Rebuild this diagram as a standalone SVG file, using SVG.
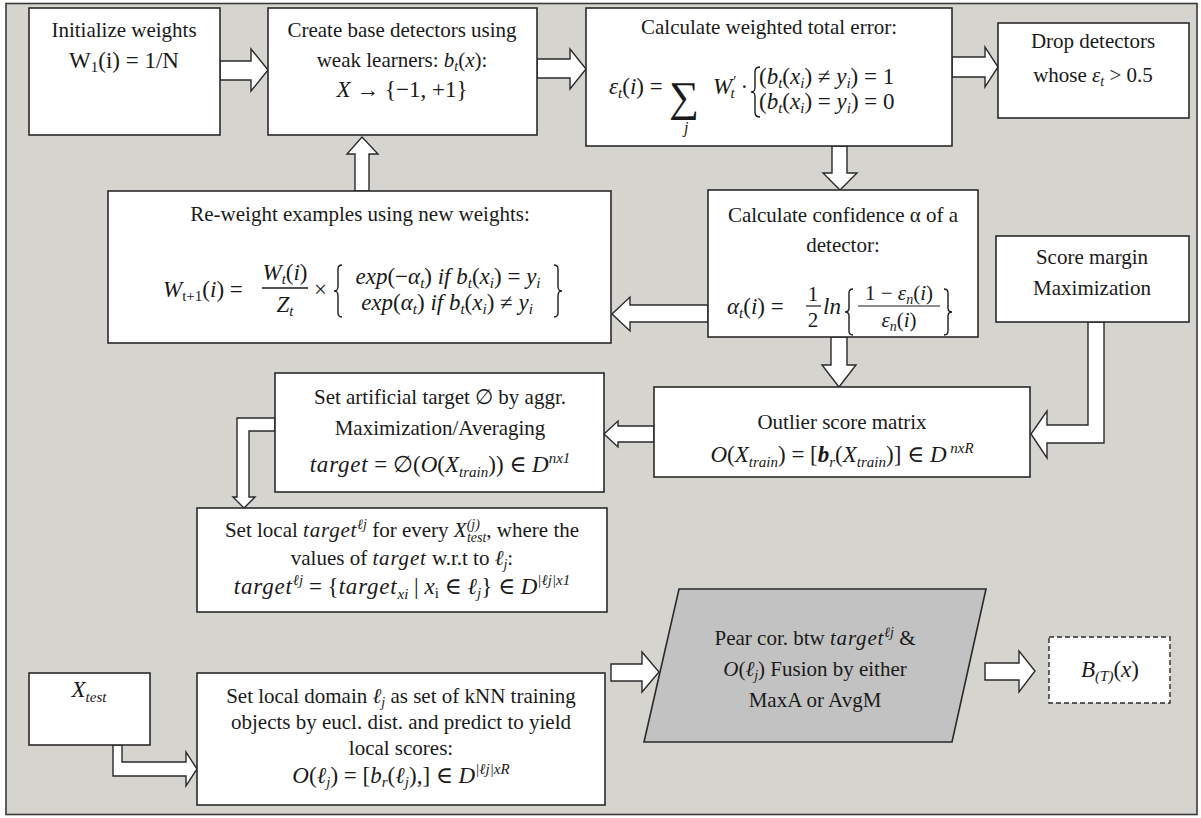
<svg xmlns="http://www.w3.org/2000/svg" width="1201" height="818" viewBox="0 0 1201 818">
<style>
.box{fill:#fff;stroke:#2a2a2a;stroke-width:1.6}
.arr{fill:#fff;stroke:#2a2a2a;stroke-width:1.4;stroke-linejoin:miter}
.br{fill:none;stroke:#1a1a1a;stroke-width:1.4}
.t{font-family:"Liberation Serif","DejaVu Serif",serif;font-size:21px;fill:#1a1a1a;text-anchor:middle}
.f{font-family:"Liberation Serif","DejaVu Serif",serif;font-size:21px;fill:#1a1a1a;text-anchor:start}
.i{font-style:italic}
.s{font-size:14px}
.m{font-size:23px}
.m .s{font-size:15px}
.tg{letter-spacing:0.8px}
</style>
<rect x="0" y="0" width="1201" height="818" fill="#fff"/>
<rect x="6" y="3.5" width="1191" height="811" fill="#d6d4ce" stroke="#3a3a3a" stroke-width="1.6"/>

<g id="connectors">
  <polygon class="arr" points="220,61 251,61 251,49 268,70 251,91 251,80 220,80"/>
  <polygon class="arr" points="537,59 570,59 570,49 586,69 570,89 570,78 537,78"/>
  <polygon class="arr" points="952,57 985,57 985,47 998,67 985,87 985,77 952,77"/>
  <polygon class="arr" points="355,191 355,154 347,154 362,137 378,154 369,154 369,191"/>
  <polygon class="arr" points="832,146 832,173 823,173 840,190 857,173 847,173 847,146"/>
  <polygon class="arr" points="708,305 630,305 630,297 612,314 630,331 630,322 708,322"/>
  <polygon class="arr" points="831,337 831,365 822,365 839,387 856,365 847,365 847,337"/>
  <polygon class="arr" points="654,426 618,426 618,421 604,434 618,447 618,442 654,442"/>
  <polygon class="arr" points="1088,322 1088,425 1047,425 1047,411 1031,434 1047,458 1047,443 1104,443 1104,322"/>
  <polygon class="arr" points="275,418 237,418 237,497 233,497 244,508 255,497 249,497 249,431 275,431"/>
  <polygon class="arr" points="113,745 113,776 186,776 186,786 197,769 186,752 186,762 122,762 122,745"/>
  <polygon class="arr" points="611,664 642,664 642,652 659,672 642,692 642,681 611,681"/>
  <polygon class="arr" points="985,663 1019,663 1019,651 1035,671 1019,692 1019,680 985,680"/>
</g>

<g id="init">
  <rect class="box" x="29" y="8" width="191" height="127"/>
  <text class="t" x="124" y="37">Initialize  weights</text>
  <text class="t m" x="124" y="68">W<tspan class="s" dy="4">1</tspan><tspan dy="-4">(i) = 1/N</tspan></text>
</g>

<g id="create">
  <rect class="box" x="268" y="8" width="269" height="127"/>
  <text class="t" x="402" y="37">Create base detectors using</text>
  <text class="t" x="402" y="67">weak learners: <tspan class="i">b</tspan><tspan class="s i" dy="4">t</tspan><tspan dy="-4">(</tspan><tspan class="i">x</tspan>):</text>
  <text class="t m" x="402" y="97"><tspan class="i">X</tspan> → {−1, +1}</text>
</g>

<g id="error">
  <rect class="box" x="586" y="8" width="366" height="138"/>
  <text class="t" x="769" y="34">Calculate  weighted total error:</text>
  <text class="f m" x="609" y="94"><tspan class="i">ε</tspan><tspan class="s i" dy="4">t</tspan><tspan dy="-4">(</tspan><tspan class="i">i</tspan>) =</text>
  <text class="f" x="669" y="111" style="font-size:42px">∑</text>
  <text class="f i" x="684" y="133" style="font-size:16px">j</text>
  <text class="f m" x="713" y="94"><tspan class="i">W</tspan><tspan class="s i" dy="-8">′</tspan><tspan class="s i" dx="-5" dy="12">t</tspan><tspan dy="-4"> ·</tspan></text>
  <path class="br" d="M760,67 C754,67 755,71 755,77 L755,87 C755,91 754,92 751,92 C754,92 755,93 755,97 L755,107 C755,113 754,117 760,117"/>
  <text class="f m" x="759" y="84">(<tspan class="i">b</tspan><tspan class="s i" dy="4">t</tspan><tspan dy="-4">(</tspan><tspan class="i">x</tspan><tspan class="s i" dy="4">i</tspan><tspan dy="-4">) ≠ </tspan><tspan class="i">y</tspan><tspan class="s i" dy="4">i</tspan><tspan dy="-4">) = 1</tspan></text>
  <text class="f m" x="759" y="109">(<tspan class="i">b</tspan><tspan class="s i" dy="4">t</tspan><tspan dy="-4">(</tspan><tspan class="i">x</tspan><tspan class="s i" dy="4">i</tspan><tspan dy="-4">) = </tspan><tspan class="i">y</tspan><tspan class="s i" dy="4">i</tspan><tspan dy="-4">) = 0</tspan></text>
</g>

<g id="drop">
  <rect class="box" x="998" y="23" width="191" height="95"/>
  <text class="t" x="1093" y="48">Drop detectors</text>
  <text class="t" x="1093" y="82">whose <tspan class="i">ε</tspan><tspan class="s i" dy="4">t</tspan><tspan dy="-4"> &gt; 0.5</tspan></text>
</g>

<g id="reweight">
  <rect class="box" x="108" y="191" width="503" height="152"/>
  <text class="t" x="360" y="221">Re-weight examples using new weights:</text>
  <text class="f m" x="163" y="297"><tspan class="i">W</tspan><tspan class="s" dy="4">t+1</tspan><tspan dy="-4">(</tspan><tspan class="i">i</tspan>) =</text>
  <text class="t m" x="285" y="280"><tspan class="i">W</tspan><tspan class="s i" dy="4">t</tspan><tspan dy="-4">(</tspan><tspan class="i">i</tspan>)</text>
  <line x1="262" y1="288" x2="308" y2="288" stroke="#1a1a1a" stroke-width="1.3"/>
  <text class="t m" x="285" y="312"><tspan class="i">Z</tspan><tspan class="s i" dy="4">t</tspan></text>
  <text class="f m" x="314" y="297">×</text>
  <path class="br" d="M342,265 C337,265 338,269 338,274 L338,286 C338,290 337,291 334,291 C337,291 338,292 338,296 L338,308 C338,313 337,317 342,317"/>
  <text class="t m" x="448" y="284"><tspan class="i">exp</tspan>(−<tspan class="i">α</tspan><tspan class="s i" dy="4">t</tspan><tspan dy="-4">) </tspan><tspan class="i">if b</tspan><tspan class="s i" dy="4">t</tspan><tspan dy="-4">(</tspan><tspan class="i">x</tspan><tspan class="s i" dy="4">i</tspan><tspan dy="-4">) = </tspan><tspan class="i">y</tspan><tspan class="s i" dy="4">i</tspan></text>
  <text class="t m" x="447" y="310"><tspan class="i">exp</tspan>(<tspan class="i">α</tspan><tspan class="s i" dy="4">t</tspan><tspan dy="-4">) </tspan><tspan class="i">if b</tspan><tspan class="s i" dy="4">t</tspan><tspan dy="-4">(</tspan><tspan class="i">x</tspan><tspan class="s i" dy="4">i</tspan><tspan dy="-4">) ≠ </tspan><tspan class="i">y</tspan><tspan class="s i" dy="4">i</tspan></text>
  <path class="br" d="M554,265 C559,265 558,269 558,274 L558,286 C558,290 559,291 562,291 C559,291 558,292 558,296 L558,308 C558,313 559,317 554,317"/>
</g>

<g id="confidence">
  <rect class="box" x="708" y="190" width="270" height="147"/>
  <text class="t" x="843" y="222">Calculate  confidence α of a</text>
  <text class="t" x="843" y="252">detector:</text>
  <text class="f m" x="727" y="314"><tspan class="i">α</tspan><tspan class="s i" dy="4">t</tspan><tspan dy="-4">(</tspan><tspan class="i">i</tspan>) =</text>
  <text class="t" x="813" y="301">1</text>
  <line x1="806" y1="306" x2="821" y2="306" stroke="#1a1a1a" stroke-width="1.2"/>
  <text class="t" x="813" y="327">2</text>
  <text class="f m i" x="823" y="314">ln</text>
  <path class="br" d="M853,289 C848,289 849,293 849,298 L849,308 C849,311 848,312 845,312 C848,312 849,313 849,316 L849,326 C849,331 848,335 853,335"/>
  <text class="t" x="899" y="300">1 − <tspan class="i">ε</tspan><tspan class="s i" dy="4">n</tspan><tspan dy="-4">(</tspan><tspan class="i">i</tspan>)</text>
  <line x1="858" y1="306" x2="940" y2="306" stroke="#1a1a1a" stroke-width="1.2"/>
  <text class="t" x="899" y="327"><tspan class="i">ε</tspan><tspan class="s i" dy="4">n</tspan><tspan dy="-4">(</tspan><tspan class="i">i</tspan>)</text>
  <path class="br" d="M944,289 C949,289 948,293 948,298 L948,308 C948,311 949,312 952,312 C949,312 948,313 948,316 L948,326 C948,331 949,335 944,335"/>
</g>

<g id="score">
  <rect class="box" x="996" y="236" width="193" height="86"/>
  <text class="t" x="1092" y="264">Score margin</text>
  <text class="t" x="1092" y="295">Maximization</text>
</g>

<g id="outlier">
  <rect class="box" x="654" y="387" width="376" height="90"/>
  <text class="t" x="842" y="429">Outlier  score matrix</text>
  <text class="t m" x="842" y="462"><tspan class="i">O</tspan>(<tspan class="i">X</tspan><tspan class="s i" dy="5">train</tspan><tspan dy="-5">) = [</tspan><tspan class="i" font-weight="bold">b</tspan><tspan class="s i" dy="5">r</tspan><tspan dy="-5">(</tspan><tspan class="i">X</tspan><tspan class="s i" dy="5">train</tspan><tspan dy="-5">)] ∈ </tspan><tspan class="i">D</tspan><tspan class="s i" dy="-9"> nxR</tspan></text>
</g>

<g id="artificial">
  <rect class="box" x="275" y="373" width="329" height="119"/>
  <text class="t" x="440" y="404">Set artificial  target ∅ by aggr.</text>
  <text class="t" x="440" y="435">Maximization/Averaging</text>
  <text class="t m" x="440" y="472"><tspan class="i tg">target</tspan> = ∅(<tspan class="i">O</tspan>(<tspan class="i">X</tspan><tspan class="s i" dy="5">train</tspan><tspan dy="-5">)) ∈ </tspan><tspan class="i">D</tspan><tspan class="s i" dy="-9">nx1</tspan></text>
</g>

<g id="localtarget">
  <rect class="box" x="197" y="508" width="410" height="104"/>
  <text class="t" x="402" y="537">Set local <tspan class="i tg">target</tspan><tspan class="s i" dy="-8">ℓj</tspan><tspan dy="8"> for every </tspan><tspan class="i">X</tspan><tspan class="s i" dy="-8">(j)</tspan><tspan class="s i" dx="-13" dy="13">test</tspan><tspan dy="-5">, where the</tspan></text>
  <text class="t" x="402" y="565">values of <tspan class="i tg">target</tspan> w.r.t to <tspan class="i">ℓ</tspan><tspan class="s i" dy="4">j</tspan><tspan dy="-4">:</tspan></text>
  <text class="t m" x="402" y="594"><tspan class="i tg">target</tspan><tspan class="s i" dy="-9">ℓj</tspan><tspan dy="9"> = {</tspan><tspan class="i tg">target</tspan><tspan class="s i" dy="5">xi</tspan><tspan dy="-5"> | </tspan><tspan class="i">x</tspan><tspan class="s" dy="4">i</tspan><tspan dy="-4"> ∈ </tspan><tspan class="i">ℓ</tspan><tspan class="s i" dy="4">j</tspan><tspan dy="-4">} ∈ </tspan><tspan class="i">D</tspan><tspan class="s i" dy="-9">|ℓj|x1</tspan></text>
</g>

<g id="xtest">
  <rect class="box" x="29" y="673" width="121" height="72"/>
  <text class="t m" x="89" y="697"><tspan class="i">X</tspan><tspan class="s i" dy="5">test</tspan></text>
</g>

<g id="localdomain">
  <rect class="box" x="197" y="673" width="408" height="132"/>
  <text class="t" x="401" y="703">Set local domain <tspan class="i">ℓ</tspan><tspan class="s i" dy="4">j</tspan><tspan dy="-4">  as set of kNN training</tspan></text>
  <text class="t" x="401" y="729">objects by eucl. dist. and predict to yield</text>
  <text class="t" x="401" y="755">local scores:</text>
  <text class="t m" x="401" y="783"><tspan class="i">O</tspan>(<tspan class="i">ℓ</tspan><tspan class="s i" dy="4">j</tspan><tspan dy="-4">) = [</tspan><tspan class="i">b</tspan><tspan class="s i" dy="4">r</tspan><tspan dy="-4">(</tspan><tspan class="i">ℓ</tspan><tspan class="s i" dy="4">j</tspan><tspan dy="-4">),] ∈ </tspan><tspan class="i">D</tspan><tspan class="s i" dy="-9">|ℓj|xR</tspan></text>
</g>

<g id="fusion">
  <polygon points="679,589 986,589 952,742 644,742" fill="#c2c2c2" stroke="#2a2a2a" stroke-width="1.6"/>
  <text class="t" x="815" y="645">Pear cor. btw <tspan class="i tg">target</tspan><tspan class="s i" dy="-8">ℓj</tspan><tspan dy="8"> &amp;</tspan></text>
  <text class="t" x="815" y="676"><tspan class="i">O</tspan>(<tspan class="i">ℓ</tspan><tspan class="s i" dy="4">j</tspan><tspan dy="-4">) Fusion by either</tspan></text>
  <text class="t" x="815" y="707">MaxA  or AvgM</text>
</g>

<g id="output">
  <rect x="1049" y="637" width="121" height="66" fill="#fff" stroke="#2a2a2a" stroke-width="1.4" stroke-dasharray="5,3"/>
  <text class="t m" x="1110" y="677"><tspan class="i">B</tspan><tspan class="s i" dy="4">(T)</tspan><tspan dy="-4">(</tspan><tspan class="i">x</tspan>)</text>
</g>
</svg>
